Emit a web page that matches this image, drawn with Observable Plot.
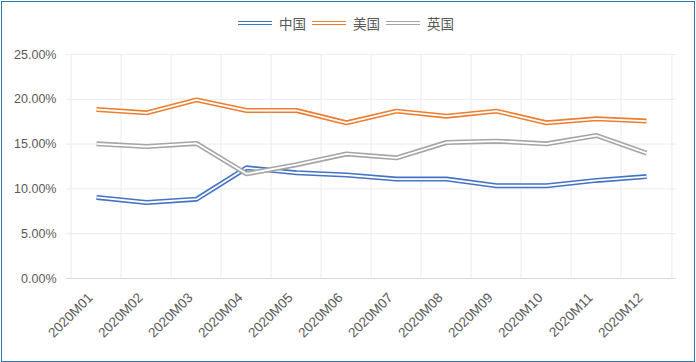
<!DOCTYPE html>
<html><head><meta charset="utf-8">
<script src="https://cdn.jsdelivr.net/npm/d3@7"></script>
<script src="https://cdn.jsdelivr.net/npm/@observablehq/plot@0.6"></script>
<style>
body{margin:0;background:#fff;}
#wrap{position:relative;width:696px;height:362px;overflow:hidden;background:#fff;}
#border{position:absolute;left:1px;top:1px;width:694px;height:361px;border:1px solid #2E75B6;box-sizing:border-box;pointer-events:none;}
#legend{position:absolute;top:14px;left:-2px;width:696px;display:flex;justify-content:center;align-items:center;font-family:"Noto Sans CJK SC",sans-serif;font-size:13.5px;color:#595959;line-height:18px;}
.item{display:flex;align-items:center;margin:0 3px;}
.sw{width:34px;height:1.6px;margin-right:7px;}
#chart{position:absolute;left:0;top:0;}
</style>
</head><body>
<div id="wrap"><div id="chart"></div><div id="legend"></div><div id="border"></div></div>
<script>
const months = ["2020M01","2020M02","2020M03","2020M04","2020M05","2020M06","2020M07","2020M08","2020M09","2020M10","2020M11","2020M12"];
const seriesNames = ["中国","美国","英国"];
const seriesColors = ["#4472C4","#ED7D31","#A5A5A5"];
const china = [9.05,8.48,8.85,12.35,11.8,11.55,11.1,11.1,10.35,10.35,10.95,11.38];
const usa   = [18.86,18.49,19.94,18.75,18.75,17.38,18.68,18.12,18.68,17.38,17.82,17.57];
const uk    = [15.03,14.73,15.07,11.68,12.7,13.9,13.47,15.18,15.33,15.03,15.96,14.0];
const yTicks = [0,5,10,15,20,25];

const values = [china, usa, uk];
const rows = [];
seriesNames.forEach((s,i)=>months.forEach((m,j)=>rows.push({series:s, month:m, value:values[i][j]})));

const W=696, H=362, mL=66, mR=20;
const step=(W-mL-mR)/months.length;

const seriesMarks = [];
seriesNames.forEach((s,i)=>{
  const d = rows.filter(r=>r.series===s);
  seriesMarks.push(Plot.line(d,{x:"month",y:"value",stroke:seriesColors[i],strokeWidth:5,strokeLinecap:"butt",strokeLinejoin:"miter"}));
  seriesMarks.push(Plot.line(d,{x:"month",y:"value",stroke:"#fff",strokeWidth:1.8,strokeLinecap:"butt",strokeLinejoin:"miter"}));
});

const chart = Plot.plot({
  width:W, height:H, marginLeft:mL, marginRight:mR, marginTop:54, marginBottom:84,
  style:{fontFamily:"'Liberation Sans', Arial, sans-serif", fontSize:"12.5px", color:"#595959", background:"transparent"},
  x:{type:"point", domain:months, padding:0.5, label:null},
  y:{domain:[0,25], label:null},
  marks:[
    Plot.gridY(yTicks.slice(1),{stroke:"#ebebeb",strokeOpacity:1}),
    Plot.gridX(months,{dx:-step/2,stroke:"#ebebeb",strokeOpacity:1}),
    Plot.ruleX([months[months.length-1]],{dx:step/2,stroke:"#ebebeb"}),
    Plot.ruleY([0],{stroke:"#d9d9d9"}),
    Plot.axisY(yTicks,{tickSize:0,tickPadding:10,tickFormat:d=>d.toFixed(2)+"%",fill:"#595959",fontSize:12.5}),
    Plot.axisX({tickSize:0,tickPadding:17,tickRotate:-45,fill:"#595959",fontSize:13.5,dx:-6}),
    ...seriesMarks
  ]
});
document.getElementById("chart").appendChild(chart);

const leg = document.getElementById("legend");
seriesNames.forEach((s,i)=>{
  const it=document.createElement("div"); it.className="item";
  const sw=document.createElement("div"); sw.className="sw";
  sw.style.borderTop=`1.7px solid ${seriesColors[i]}`; sw.style.borderBottom=`1.7px solid ${seriesColors[i]}`;
  const t=document.createElement("span"); t.textContent=s;
  it.appendChild(sw); it.appendChild(t); leg.appendChild(it);
});
</script>
</body></html>
